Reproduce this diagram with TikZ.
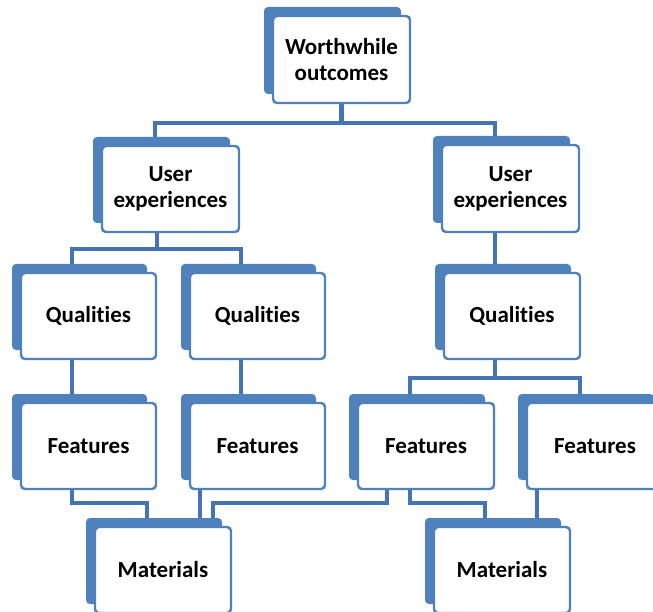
\documentclass[tikz,border=0pt]{standalone}
\usepackage{fontspec}
\setmainfont[RawFeature={-liga}]{Carlito}
\usetikzlibrary{calc}
\definecolor{ob}{HTML}{4F81BD}
\definecolor{obd}{HTML}{4475B2}
\pgfdeclarelayer{bg}
\pgfsetlayers{bg,main}
\tikzset{
  backbox/.style={fill=ob, draw=none, rounded corners=4pt, inner sep=0pt, outer sep=0pt},
  frontbox/.style={fill=white, draw=ob, line width=2.4pt, rounded corners=4pt, inner sep=0pt, outer sep=0pt,
    align=center, font=\fontsize{23}{26}\selectfont\bfseries, text=black},
  conn/.style={draw=obd, line width=4.5pt, line cap=butt, line join=miter}
}
% name, left, top, width, height, text
\newcommand\tbox[6]{%
  \node[backbox, minimum width=#4pt, minimum height=#5pt] (#1b) at ({#2+#4/2-9},{#3+#5/2-9}) {};
  \node[frontbox, minimum width=#4pt, minimum height=#5pt] (#1) at ({#2+#4/2},{#3+#5/2}) {#6};
}
\begin{document}
\begin{tikzpicture}[x=1pt,y=-1pt]
\useasboundingbox (0,0) rectangle (653,612);
\clip (0,0) rectangle (653,612);

\tbox{W}{273}{16}{137}{87}{Worthwhile\\outcomes}
\tbox{UEL}{102}{146}{137}{86}{User\\experiences}
\tbox{UER}{442}{145}{137}{87}{User\\experiences}
\tbox{QA}{21}{273}{135}{86}{Qualities}
\tbox{QB}{190}{273}{135}{86}{Qualities}
\tbox{QC}{444}{273}{136}{86}{Qualities}
\tbox{FA}{21}{403}{135}{86}{Features}
\tbox{FB}{190}{403}{135}{86}{Features}
\tbox{FC}{358}{403}{136}{86}{Features}
\tbox{FD}{527}{403}{136}{86}{Features}
\tbox{MA}{95}{527}{136}{86}{Materials}
\tbox{MB}{434}{527}{136}{86}{Materials}

\begin{pgfonlayer}{bg}
\fill[white] (0,0) rectangle (653,612);
% level 1
\draw[conn] (W.south) -- ++(0,20) coordinate (j1);
\draw[conn] ($(UELb.north west)+(62,0)$) |- (j1) -| ($(UERb.north west)+(62,0)$);
% level 2 left
\draw[conn] ($(UEL.south west)+(55,0)$) -- ++(0,17) coordinate (j2);
\draw[conn] ($(QAb.north west)+(60,0)$) |- (j2) -| ($(QBb.north west)+(60,0)$);
% level 2 right
\coordinate (qct) at ($(QCb.north west)+(60,0)$);
\draw[conn] (qct) -- (qct |- UER.south);
% qualities to features
\coordinate (fat) at ($(FAb.north west)+(60,0)$);
\draw[conn] (fat) -- (fat |- QA.south);
\coordinate (fbt) at ($(FBb.north west)+(60,0)$);
\draw[conn] (fbt) -- (fbt |- QB.south);
\draw[conn] ($(QC.south west)+(51,0)$) -- ++(0,19) coordinate (j3);
\draw[conn] ($(FCb.north west)+(61,0)$) |- (j3) -| ($(FDb.north west)+(62,0)$);
% features to materials
\draw[conn] ($(FA.south west)+(51,0)$) -- ++(0,14) -| ($(MAb.north west)+(61,0)$);
\coordinate (mat) at ($(MAb.north west)+(114,0)$);
\draw[conn] (mat) -- (mat |- FB.south);
\draw[conn] ($(FC.south west)+(29,0)$) -- ++(0,14) -| ($(MAb.north west)+(127,0)$);
\draw[conn] ($(FC.south west)+(52,0)$) -- ++(0,14) -| ($(MBb.north west)+(60,0)$);
\coordinate (mbt) at ($(MBb.north west)+(112,0)$);
\draw[conn] (mbt) -- (mbt |- FD.south);
\end{pgfonlayer}
\end{tikzpicture}
\end{document}
